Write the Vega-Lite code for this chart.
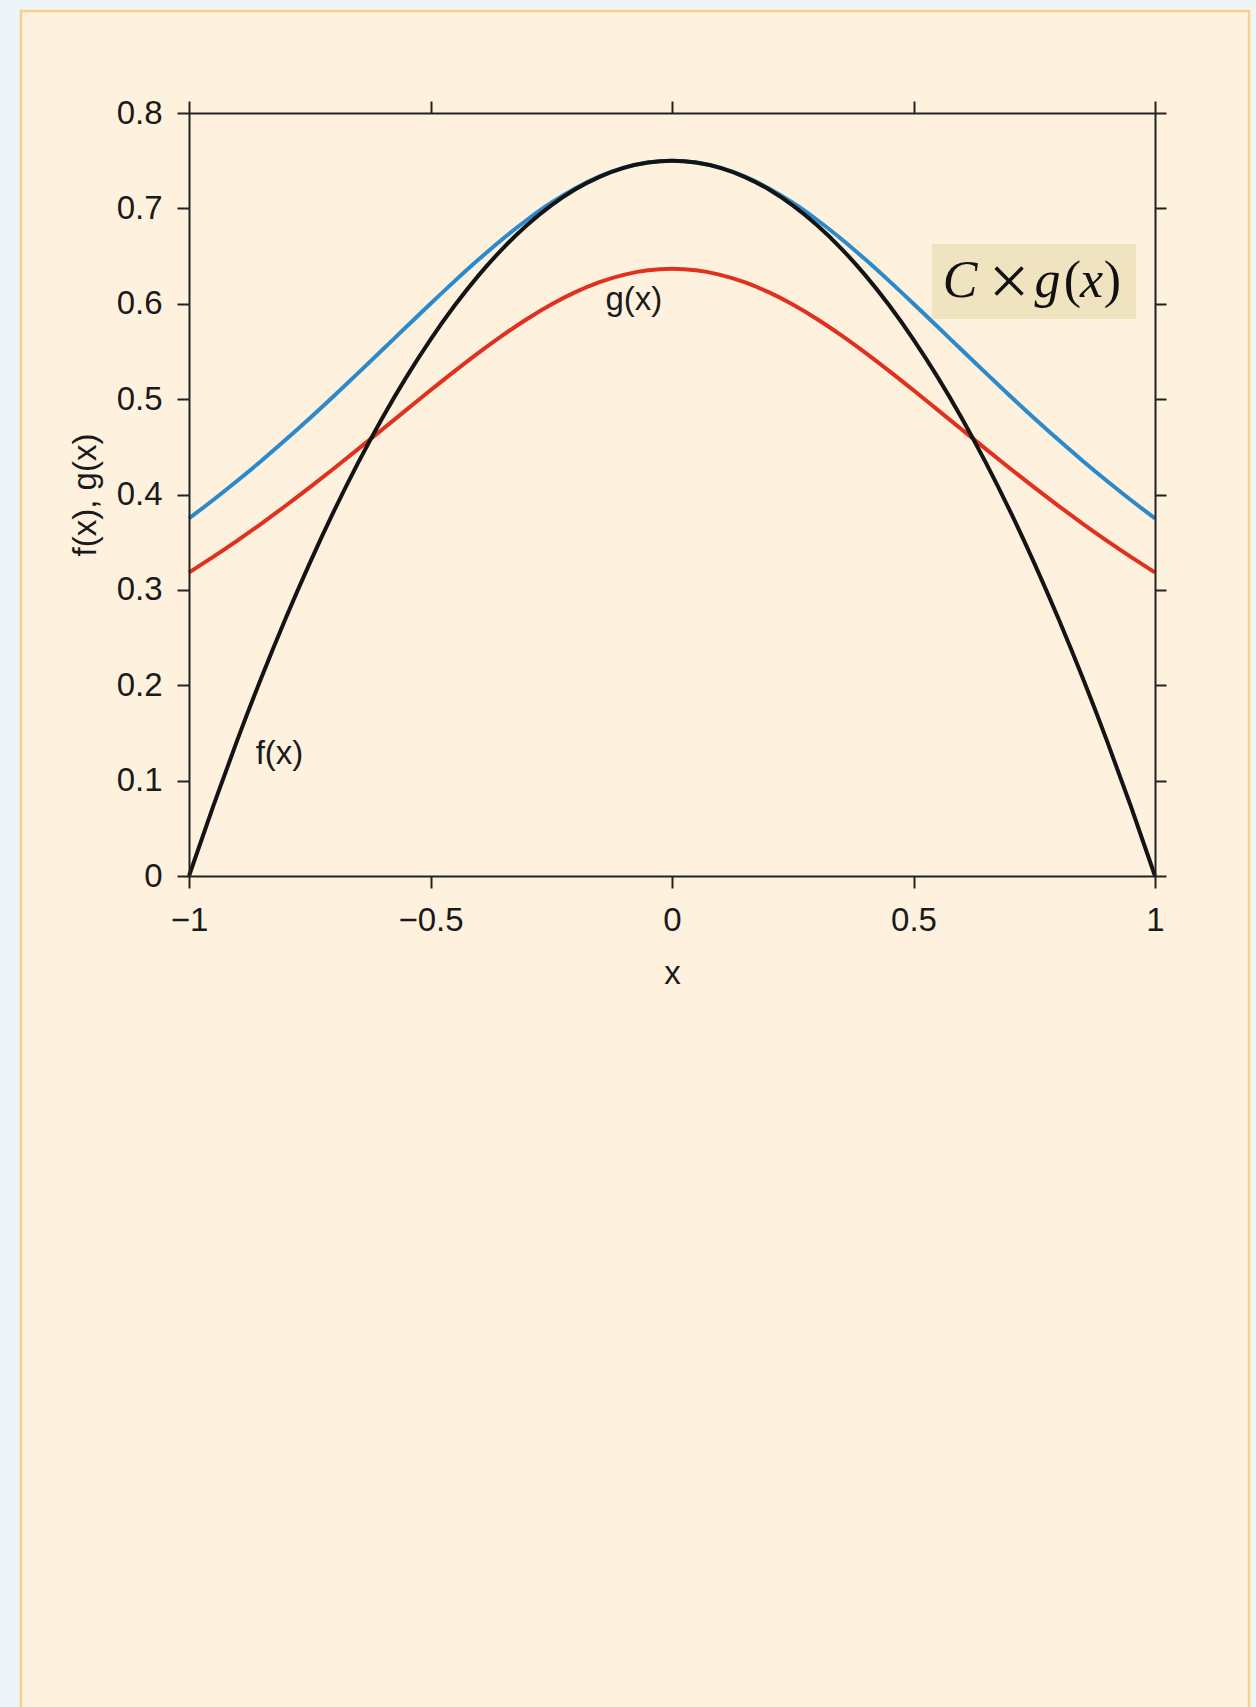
{
  "$schema": "https://vega.github.io/schema/vega-lite/v6.json",
  "width": 966,
  "height": 763,
  "autosize": {"type": "none"},
  "padding": {"left": 189, "top": 113, "right": 101, "bottom": 831},
  "background": "#EDF5F9",
  "config": {
    "view": {"stroke": null},
    "axis": {
      "domainColor": "#222222", "domainWidth": 2, "tickColor": "#222222", "tickWidth": 2,
      "labelFont": "Liberation Sans", "labelFontSize": 33, "labelColor": "#1a1a1a", "labelFlush": false,
      "titleFont": "Liberation Sans", "titleFontSize": 33, "titleFontWeight": "normal", "titleColor": "#1a1a1a",
      "grid": false
    },
    "text": {"font": "Liberation Serif", "fontSize": 52, "color": "#111111", "baseline": "alphabetic", "align": "center"}
  },
  "datasets": {
    "one": [{}],
    "curves": [
      {"x": -1.0, "f": 0.0, "g": 0.31831, "cg": 0.375},
      {"x": -0.95, "f": 0.0731, "g": 0.33462, "cg": 0.39422},
      {"x": -0.9, "f": 0.1425, "g": 0.35173, "cg": 0.41436},
      {"x": -0.85, "f": 0.2081, "g": 0.36959, "cg": 0.43541},
      {"x": -0.8, "f": 0.27, "g": 0.38818, "cg": 0.45732},
      {"x": -0.75, "f": 0.3281, "g": 0.40744, "cg": 0.48},
      {"x": -0.7, "f": 0.3825, "g": 0.42726, "cg": 0.50336},
      {"x": -0.65, "f": 0.4331, "g": 0.44754, "cg": 0.52724},
      {"x": -0.6, "f": 0.48, "g": 0.4681, "cg": 0.55147},
      {"x": -0.55, "f": 0.5231, "g": 0.48877, "cg": 0.57582},
      {"x": -0.5, "f": 0.5625, "g": 0.5093, "cg": 0.6},
      {"x": -0.45, "f": 0.5981, "g": 0.52941, "cg": 0.6237},
      {"x": -0.4, "f": 0.63, "g": 0.54881, "cg": 0.64655},
      {"x": -0.35, "f": 0.6581, "g": 0.56714, "cg": 0.66815},
      {"x": -0.3, "f": 0.6825, "g": 0.58406, "cg": 0.68807},
      {"x": -0.25, "f": 0.7031, "g": 0.59917, "cg": 0.70588},
      {"x": -0.2, "f": 0.72, "g": 0.61213, "cg": 0.72115},
      {"x": -0.15, "f": 0.7331, "g": 0.62261, "cg": 0.7335},
      {"x": -0.1, "f": 0.7425, "g": 0.63032, "cg": 0.74257},
      {"x": -0.05, "f": 0.7481, "g": 0.63503, "cg": 0.74813},
      {"x": 0.0, "f": 0.75, "g": 0.63662, "cg": 0.75},
      {"x": 0.05, "f": 0.7481, "g": 0.63503, "cg": 0.74813},
      {"x": 0.1, "f": 0.7425, "g": 0.63032, "cg": 0.74257},
      {"x": 0.15, "f": 0.7331, "g": 0.62261, "cg": 0.7335},
      {"x": 0.2, "f": 0.72, "g": 0.61213, "cg": 0.72115},
      {"x": 0.25, "f": 0.7031, "g": 0.59917, "cg": 0.70588},
      {"x": 0.3, "f": 0.6825, "g": 0.58406, "cg": 0.68807},
      {"x": 0.35, "f": 0.6581, "g": 0.56714, "cg": 0.66815},
      {"x": 0.4, "f": 0.63, "g": 0.54881, "cg": 0.64655},
      {"x": 0.45, "f": 0.5981, "g": 0.52941, "cg": 0.6237},
      {"x": 0.5, "f": 0.5625, "g": 0.5093, "cg": 0.6},
      {"x": 0.55, "f": 0.5231, "g": 0.48877, "cg": 0.57582},
      {"x": 0.6, "f": 0.48, "g": 0.4681, "cg": 0.55147},
      {"x": 0.65, "f": 0.4331, "g": 0.44754, "cg": 0.52724},
      {"x": 0.7, "f": 0.3825, "g": 0.42726, "cg": 0.50336},
      {"x": 0.75, "f": 0.3281, "g": 0.40744, "cg": 0.48},
      {"x": 0.8, "f": 0.27, "g": 0.38818, "cg": 0.45732},
      {"x": 0.85, "f": 0.2081, "g": 0.36959, "cg": 0.43541},
      {"x": 0.9, "f": 0.1425, "g": 0.35173, "cg": 0.41436},
      {"x": 0.95, "f": 0.0731, "g": 0.33462, "cg": 0.39422},
      {"x": 1.0, "f": 0.0, "g": 0.31831, "cg": 0.375}
    ]
  },
  "resolve": {"axis": {"x": "independent", "y": "independent"}},
  "layer": [
    {
      "data": {"name": "one"},
      "mark": {"type": "rect", "fill": "#FEF1DE", "stroke": "#F4D18C", "strokeWidth": 2.5},
      "encoding": {
        "x": {"datum": -1.348, "type": "quantitative", "scale": {"domain": [-1, 1], "nice": false, "zero": false}, "axis": null},
        "x2": {"datum": 1.1946},
        "y": {"datum": 0.907, "type": "quantitative", "scale": {"domain": [0, 0.8], "nice": false, "zero": false}, "axis": null},
        "y2": {"datum": -1.0}
      }
    },
    {
      "data": {"name": "curves"},
      "mark": {"type": "line", "color": "#2B8ACB", "strokeWidth": 4, "interpolate": "monotone"},
      "encoding": {
        "x": {"field": "x", "type": "quantitative", "scale": {"domain": [-1, 1], "nice": false, "zero": false},
              "axis": {"orient": "bottom", "zindex": 1, "values": [-1, -0.5, 0, 0.5, 1], "format": "~g", "title": "x", "tickSize": 12, "labelPadding": 16, "titlePadding": 20}},
        "y": {"field": "cg", "type": "quantitative", "scale": {"domain": [0, 0.8], "nice": false, "zero": false},
              "axis": {"orient": "left", "zindex": 1, "values": [0, 0.1, 0.2, 0.3, 0.4, 0.5, 0.6, 0.7, 0.8], "format": "~g", "title": "f(x), g(x)", "tickSize": 12, "labelPadding": 15, "titlePadding": 14}}
      }
    },
    {
      "data": {"name": "curves"},
      "mark": {"type": "line", "color": "#E2301F", "strokeWidth": 4, "interpolate": "monotone"},
      "encoding": {
        "x": {"field": "x", "type": "quantitative", "scale": {"domain": [-1, 1], "nice": false, "zero": false},
              "axis": {"orient": "top", "zindex": 1, "values": [-1, -0.5, 0, 0.5, 1], "labels": false, "title": null, "tickSize": 12}},
        "y": {"field": "g", "type": "quantitative", "scale": {"domain": [0, 0.8], "nice": false, "zero": false},
              "axis": {"orient": "right", "zindex": 1, "values": [0, 0.1, 0.2, 0.3, 0.4, 0.5, 0.6, 0.7, 0.8], "labels": false, "title": null, "tickSize": 11}}
      }
    },
    {
      "data": {"name": "curves"},
      "mark": {"type": "line", "color": "#141414", "strokeWidth": 4, "interpolate": "monotone"},
      "encoding": {
        "x": {"field": "x", "type": "quantitative", "scale": {"domain": [-1, 1], "nice": false, "zero": false}, "axis": null},
        "y": {"field": "f", "type": "quantitative", "scale": {"domain": [0, 0.8], "nice": false, "zero": false}, "axis": null}
      }
    },
    {
      "data": {"name": "one"},
      "mark": {"type": "rect", "fill": "#EFE3C0"},
      "encoding": {
        "x": {"datum": 0.538, "type": "quantitative", "scale": {"domain": [-1, 1], "nice": false, "zero": false}, "axis": null},
        "x2": {"datum": 0.961},
        "y": {"datum": 0.584, "type": "quantitative", "scale": {"domain": [0, 0.8], "nice": false, "zero": false}, "axis": null},
        "y2": {"datum": 0.6627}
      }
    },
    {
      "data": {"name": "one"},
      "mark": {"type": "text", "text": "C", "fontStyle": "italic"},
      "encoding": {
        "x": {"datum": 0.5963, "type": "quantitative", "scale": {"domain": [-1, 1], "nice": false, "zero": false}, "axis": null},
        "y": {"datum": 0.607, "type": "quantitative", "scale": {"domain": [0, 0.8], "nice": false, "zero": false}, "axis": null}
      }
    },
    {
      "data": {"name": "one"},
      "mark": {"type": "text", "text": "×", "fontSize": 72, "baseline": "middle"},
      "encoding": {
        "x": {"datum": 0.6977, "type": "quantitative", "scale": {"domain": [-1, 1], "nice": false, "zero": false}, "axis": null},
        "y": {"datum": 0.622, "type": "quantitative", "scale": {"domain": [0, 0.8], "nice": false, "zero": false}, "axis": null}
      }
    },
    {
      "data": {"name": "one"},
      "mark": {"type": "text", "text": "g", "fontStyle": "italic"},
      "encoding": {
        "x": {"datum": 0.7774, "type": "quantitative", "scale": {"domain": [-1, 1], "nice": false, "zero": false}, "axis": null},
        "y": {"datum": 0.607, "type": "quantitative", "scale": {"domain": [0, 0.8], "nice": false, "zero": false}, "axis": null}
      }
    },
    {
      "data": {"name": "one"},
      "mark": {"type": "text", "text": "("},
      "encoding": {
        "x": {"datum": 0.8292, "type": "quantitative", "scale": {"domain": [-1, 1], "nice": false, "zero": false}, "axis": null},
        "y": {"datum": 0.607, "type": "quantitative", "scale": {"domain": [0, 0.8], "nice": false, "zero": false}, "axis": null}
      }
    },
    {
      "data": {"name": "one"},
      "mark": {"type": "text", "text": "x", "fontStyle": "italic"},
      "encoding": {
        "x": {"datum": 0.8685, "type": "quantitative", "scale": {"domain": [-1, 1], "nice": false, "zero": false}, "axis": null},
        "y": {"datum": 0.607, "type": "quantitative", "scale": {"domain": [0, 0.8], "nice": false, "zero": false}, "axis": null}
      }
    },
    {
      "data": {"name": "one"},
      "mark": {"type": "text", "text": ")"},
      "encoding": {
        "x": {"datum": 0.912, "type": "quantitative", "scale": {"domain": [-1, 1], "nice": false, "zero": false}, "axis": null},
        "y": {"datum": 0.607, "type": "quantitative", "scale": {"domain": [0, 0.8], "nice": false, "zero": false}, "axis": null}
      }
    },
    {
      "data": {"name": "one"},
      "mark": {"type": "text", "text": "g(x)", "font": "Liberation Sans", "fontSize": 33, "color": "#1a1a1a", "align": "center", "baseline": "alphabetic"},
      "encoding": {
        "x": {"datum": -0.079, "type": "quantitative", "scale": {"domain": [-1, 1], "nice": false, "zero": false}, "axis": null},
        "y": {"datum": 0.5934, "type": "quantitative", "scale": {"domain": [0, 0.8], "nice": false, "zero": false}, "axis": null}
      }
    },
    {
      "data": {"name": "one"},
      "mark": {"type": "text", "text": "f(x)", "font": "Liberation Sans", "fontSize": 33, "color": "#1a1a1a", "align": "left", "baseline": "alphabetic"},
      "encoding": {
        "x": {"datum": -0.862, "type": "quantitative", "scale": {"domain": [-1, 1], "nice": false, "zero": false}, "axis": null},
        "y": {"datum": 0.1174, "type": "quantitative", "scale": {"domain": [0, 0.8], "nice": false, "zero": false}, "axis": null}
      }
    }
  ]
}
